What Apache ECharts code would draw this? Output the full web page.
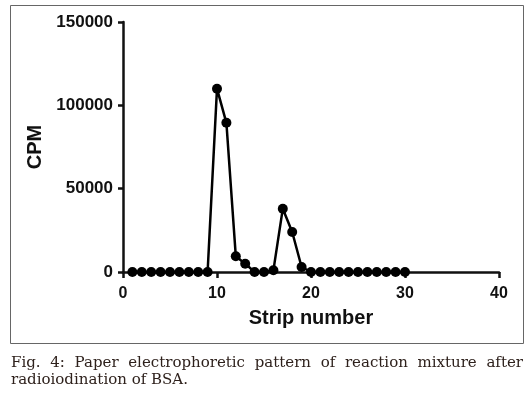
<!DOCTYPE html>
<html>
<head>
<meta charset="utf-8">
<script src="https://cdn.jsdelivr.net/npm/echarts@6/dist/echarts.min.js"></script>
<style>html,body{margin:0;padding:0;background:#fff;}#c{width:532px;height:395px;}</style>
</head>
<body>
<div id="c"></div>
<script>
// Data
const strips = [1,2,3,4,5,6,7,8,9,10,11,12,13,14,15,16,17,18,19,20,21,22,23,24,25,26,27,28,29,30];
const cpm = [0,0,0,0,0,0,0,0,0,110000,89500,9500,5000,0,0,1000,38000,24000,3000,0,0,0,0,0,0,0,0,0,0,0];
const xTicks = [0,10,20,30,40];
const yTicks = [0,50000,100000,150000];
const xTitle = "Strip number";
const yTitle = "CPM";
const caption1 = "Fig. 4: Paper electrophoretic pattern of reaction mixture after";
const caption2 = "radioiodination of BSA.";

const chart = echarts.init(document.getElementById('c'), null, {renderer:'canvas'});
const axisFont = 'Liberation Sans';
const capFont = '15px "DejaVu Serif"';
const capColor = '#2e211c';

// justify first caption line across its width
const cv = document.createElement('canvas').getContext('2d');
cv.font = capFont;
const words = caption1.split(' ');
const widths = words.map(w => cv.measureText(w).width);
const capLeft = 11, capRight = 523;
const gap = (capRight - capLeft - widths.reduce((a,b)=>a+b,0)) / (words.length - 1);
const graphics = [{
  type:'rect', shape:{x:10.5,y:5.5,width:513,height:338},
  style:{fill:null, stroke:'#666', lineWidth:1}, silent:true
}];
let cx = capLeft;
words.forEach((w,i) => {
  graphics.push({type:'text', x:cx, y:363, style:{text:w, font:capFont, fill:capColor, textVerticalAlign:'middle'}});
  cx += widths[i] + gap;
});
graphics.push({type:'text', x:capLeft, y:380, style:{text:caption2, font:capFont, fill:capColor, textVerticalAlign:'middle'}});

chart.setOption({
  animation:false,
  backgroundColor:'#fff',
  grid:{left:123, right:33, top:22, bottom:123, containLabel:false},
  xAxis:{
    type:'value', min:xTicks[0], max:xTicks[xTicks.length-1], interval:10,
    name:xTitle, nameLocation:'middle', nameGap:36,
    nameTextStyle:{fontFamily:axisFont, fontWeight:'bold', fontSize:20, color:'#111'},
    axisLine:{show:true, onZero:false, lineStyle:{color:'#111', width:2.5}},
    axisTick:{show:true, length:6, lineStyle:{color:'#111', width:2.5}},
    axisLabel:{margin:14, fontFamily:axisFont, fontWeight:'bold', fontSize:16, color:'#111',
      formatter: v => String(v)},
    splitLine:{show:false}
  },
  yAxis:{
    type:'value', min:yTicks[0], max:yTicks[yTicks.length-1], interval:50000,
    name:yTitle, nameLocation:'middle', nameGap:78, nameRotate:90,
    nameTextStyle:{fontFamily:axisFont, fontWeight:'bold', fontSize:20, color:'#111'},
    axisLine:{show:true, onZero:false, lineStyle:{color:'#111', width:2.5}},
    axisTick:{show:true, length:5, lineStyle:{color:'#111', width:2.5}},
    axisLabel:{margin:10, fontFamily:axisFont, fontWeight:'bold', fontSize:17, color:'#111',
      formatter: v => String(v)},
    splitLine:{show:false}
  },
  series:[{
    type:'line',
    data: strips.map((s,i)=>[s, cpm[i]]),
    symbol:'circle', symbolSize:10, showSymbol:true,
    lineStyle:{color:'#000', width:2.5},
    itemStyle:{color:'#000'},
    z:5
  }],
  graphic: graphics
});
</script>
</body>
</html>
